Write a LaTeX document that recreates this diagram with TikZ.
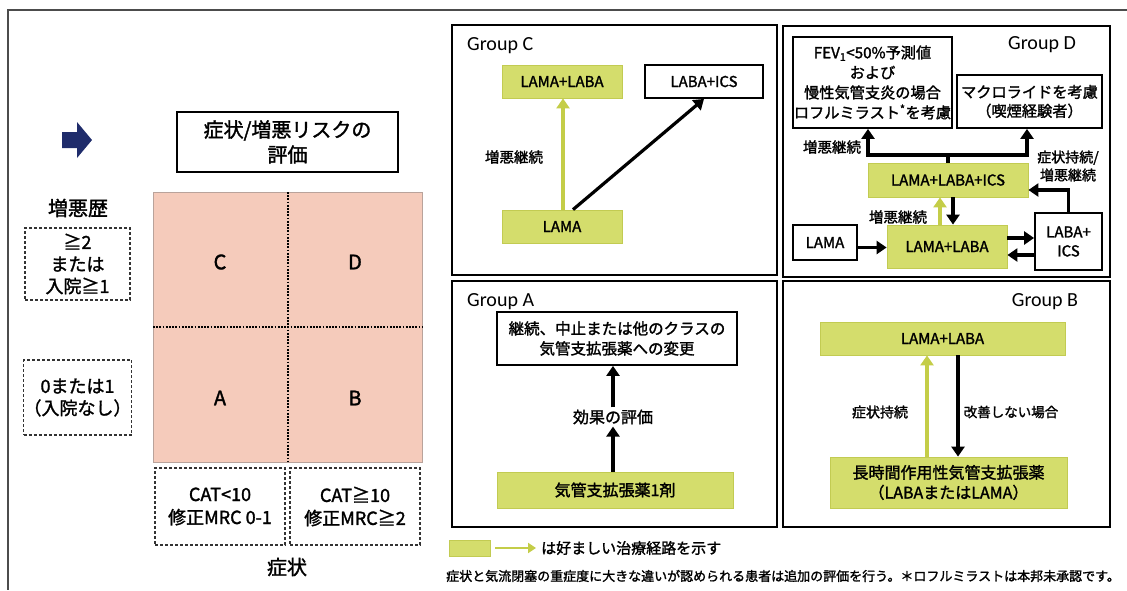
\documentclass[tikz,border=0pt]{standalone}
\usepackage{fontspec}
\setmainfont{Noto Sans CJK JP}[AutoFakeBold=1.6]
\newfontfamily\grp{Carlito}
\usetikzlibrary{arrows.meta,calc}
\definecolor{lg}{HTML}{D4DD6C}
\definecolor{lgd}{HTML}{C2CB52}
\definecolor{ga}{HTML}{C4CD48}
\definecolor{pk}{HTML}{F5CBBB}
\definecolor{pkd}{HTML}{B9A39B}
\definecolor{navy}{HTML}{1F2C6B}
\newcommand{\fsz}[2]{\fontsize{#1}{#2}\selectfont\bfseries}
\begin{document}
\begin{tikzpicture}[x=1pt,y=-1pt,
  panel/.style={draw=black, line width=1.8pt},
  gbox/.style={fill=lg, draw=lgd, line width=0.8pt, inner sep=0pt, align=center},
  wbox/.style={draw=black, line width=1.8pt, fill=white, inner sep=0pt, align=center},
  dbox/.style={draw=black!80, line width=1.4pt, dash pattern=on 3pt off 2pt, inner sep=0pt, align=center},
  arr/.style={line width=3.2pt, -{Triangle[length=10pt,width=13pt]}},
  garr/.style={arr, color=ga},
  lbl/.style={inner sep=0pt, align=center},
  sz/.style 2 args={minimum width=#1pt, minimum height=#2pt}]
\useasboundingbox (0,0) rectangle (1127,590);
\draw[line width=1.2pt, black!70] (1127,10) -- (8,10) -- (8,590);

% ---------- left part ----------
\fill[navy] (62,132) -- (77,132) -- (77,122) -- (92,140) -- (77,158) -- (77,148) -- (62,148) -- cycle;
\node[wbox, sz={221}{60}, font=\fsz{20}{25}] (eval) at (287.5,142) {症状/増悪リスクの\\評価};
\node[lbl, font=\fsz{20}{24}] (hist) at (78,208) {増悪歴};
\node[dbox, sz={105}{72}, font=\fsz{18}{22}] (h1) at (77.5,264) {≧2\\または\\入院≧1};
\node[dbox, sz={105}{75}, font=\fsz{18}{22}] (h2) at (77.5,397.5) {0または1\\（入院なし）};
\fill[pk] (153,192) rectangle (422,462);
\draw[pkd, line width=0.8pt] (153,192) rectangle (422,462);
\draw[line width=2.4pt, dash pattern=on 1.8pt off 1.4pt] (288,192) -- (288,462);
\draw[line width=2.4pt, dash pattern=on 1.8pt off 1.4pt] (153,327) -- (422,327);
\node[lbl, font=\fsz{20}{24}] (qC) at (220,262) {C};
\node[lbl, font=\fsz{20}{24}] (qD) at (355,262) {D};
\node[lbl, font=\fsz{20}{24}] (qA) at (220,398) {A};
\node[lbl, font=\fsz{20}{24}] (qB) at (355,398) {B};
\node[dbox, sz={130}{77}, font=\fsz{18}{23}] (s1) at (220,506.5) {CAT<10\\修正MRC 0-1};
\node[dbox, sz={130}{77}, font=\fsz{18}{23}] (s2) at (355,506.5) {CAT≧10\\修正MRC≧2};
\node[lbl, font=\fsz{20}{24}] (sym) at (287,567) {症状};

% ---------- panels ----------
\draw[panel] (452,25) rectangle (777,275);
\draw[panel] (783,26) rectangle (1110,277);
\draw[panel] (452,281) rectangle (777,527);
\draw[panel] (783,281) rectangle (1110,527);

% ---------- Group C ----------
\node[lbl, anchor=west, font=\grp\fontsize{20}{24}\selectfont] (gC) at (467,46) {Group C};
\node[gbox, sz={120}{33}, font=\fsz{15}{18}] (c1) at (562,81.5) {LAMA+LABA};
\node[wbox, sz={118}{33}, font=\fsz{15}{18}] (c2) at (704,81.5) {LABA+ICS};
\node[gbox, sz={120}{33}, font=\fsz{15}{18}] (c3) at (562,226.5) {LAMA};
\draw[garr] ([xshift=1pt]c3.north) -- ([xshift=1pt]c1.south);
\draw[arr] ([xshift=11pt]c3.north) -- (c2.south);
\node[lbl, font=\fsz{14.5}{18}] (cl) at (514,157) {増悪継続};

% ---------- Group D ----------
\node[lbl, font=\grp\fontsize{20}{24}\selectfont] (gD) at (1042,45) {Group D};
\node[wbox, sz={159}{91}, font=\fsz{15.2}{20}] (d1) at (872.5,82.5) {FEV\textsubscript{1}<50\%予測値\\および\\慢性気管支炎の場合\\ロフルミラスト\textsuperscript{*}を考慮};
\node[wbox, sz={145}{53}, font=\fsz{15.2}{19}] (d2) at (1029.5,101.5) {マクロライドを考慮\\（喫煙経験者）};
\node[gbox, sz={160}{34}, font=\fsz{15}{18}] (d3) at (948,180) {LAMA+LABA+ICS};
\node[wbox, sz={64}{35}, font=\fsz{15}{18}] (d4) at (825,242.5) {LAMA};
\node[gbox, sz={120}{43}, font=\fsz{15}{18}] (d5) at (947,246.5) {LAMA+LABA};
\node[wbox, sz={67}{57}, font=\fsz{15}{19}] (d6) at (1068.5,241.5) {LABA+\\ICS};
\coordinate (jm) at (948,155);
\draw[line width=3.2pt] (d3.north) -- (jm);
\draw[arr] (jm) -| ([xshift=-4.5pt]d1.south);
\draw[arr] (jm) -| ([xshift=-2.5pt]d2.south);
\node[lbl, font=\fsz{14.5}{18}] (dl1) at (832,147) {増悪継続};
\node[lbl, font=\fsz{14}{18}] (dl2) at (1068,166) {症状持続/\\増悪継続};
\draw[arr] (d6.north) |- ([yshift=-10pt]d3.east);
\draw[arr] ([xshift=5pt]d3.south) -- ([xshift=5pt]d3.south |- d5.north);
\draw[garr] ([xshift=-8pt]d3.south |- d5.north) -- ([xshift=-8pt]d3.south);
\node[lbl, font=\fsz{14.5}{18}] (dl3) at (898,217) {増悪継続};
\draw[arr] ([yshift=-5pt]d4.east) -- ([yshift=-5pt]d4.east -| d5.west);
\coordinate (ya) at (0,238);
\coordinate (yb) at (0,255);
\draw[arr] (d5.east |- ya) -- (d6.west |- ya);
\draw[arr] (d6.west |- yb) -- (d5.east |- yb);

% ---------- Group A ----------
\node[lbl, anchor=west, font=\grp\fontsize{20}{24}\selectfont] (gA) at (467,302) {Group A};
\node[wbox, sz={240}{53}, font=\fsz{15.5}{20}] (a1) at (617,338.5) {継続、中止または他のクラスの\\気管支拡張薬への変更};
\node[lbl, font=\fsz{16}{20}] (a2) at (613,417) {効果の評価};
\node[gbox, sz={236}{36}, font=\fsz{16}{20}] (a3) at (615,490) {気管支拡張薬1剤};
\draw[arr] ([xshift=-2pt]a3.north) -- ([yshift=-2pt]a2.south);
\draw[arr] ([yshift=2pt]a2.north) -- ([xshift=-4pt]a1.south);

% ---------- Group B ----------
\node[lbl, font=\grp\fontsize{20}{24}\selectfont] (gB) at (1045,302) {Group B};
\node[gbox, sz={245}{33}, font=\fsz{15}{18}] (b1) at (942.5,338.5) {LAMA+LABA};
\node[gbox, sz={237}{51}, font=\fsz{16}{20}] (b2) at (948.5,482.5) {長時間作用性気管支拡張薬\\（LABAまたはLAMA）};
\coordinate (xg) at (927,0);
\coordinate (xb) at (958,0);
\draw[garr] (b2.north -| xg) -- (b1.south -| xg);
\draw[arr] (b1.south -| xb) -- (b2.north -| xb);
\node[lbl, font=\fsz{14}{18}] (bl1) at (880,412) {症状持続};
\node[lbl, font=\fsz{13.5}{18}] (bl2) at (1011,412) {改善しない場合};

% ---------- legend ----------
\node[gbox, sz={41}{16}] (lgbox) at (469.5,548) {};
\coordinate (la1) at (495,548);
\coordinate (la2) at (536,548);
\draw[ga, line width=2.4pt, -{Triangle[length=8pt,width=10pt]}] (la1) -- (la2);
\node[lbl, anchor=west, font=\fsz{15}{18}] (lgt) at (541,548) {は好ましい治療経路を示す};
\node[lbl, anchor=west, font=\fsz{13}{16}] (foot) at (446,576) {症状と気流閉塞の重症度に大きな違いが認められる患者は追加の評価を行う。＊ロフルミラストは本邦未承認です。};
\end{tikzpicture}
\end{document}
